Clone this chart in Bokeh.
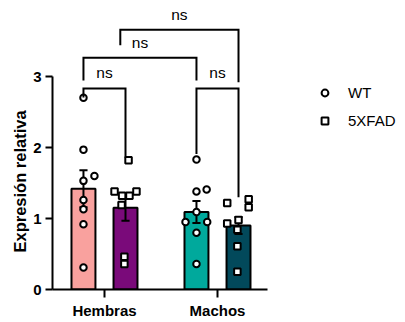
from bokeh.plotting import figure
from bokeh.models import Range1d, FixedTicker, Legend, LegendItem, Title
from bokeh.core.properties import value
from bokeh.embed import file_html
from bokeh.resources import INLINE

# ---------------- data ----------------
groups = ["Hembras", "Machos"]
genotypes = ["WT", "5XFAD"]
y_label = "Expresión relativa"
y_ticks = [0, 1, 2, 3]

mean_wt = [1.42, 1.09]
mean_5xfad = [1.15, 0.90]
sem_wt = [0.26, 0.155]
sem_5xfad = [0.18, 0.12]

hembras_wt = [2.70, 1.97, 1.60, 1.53, 1.26, 1.13, 0.92, 0.31]
hembras_wt_jitter = [0.0, 0.0, 0.097, 0.0, 0.0, 0.0, 0.0, 0.0]
hembras_5xfad = [1.82, 1.38, 1.32, 1.32, 1.38, 1.19, 0.46, 0.36]
hembras_5xfad_jitter = [0.027, -0.097, -0.03, 0.035, 0.097, -0.035, -0.01, -0.01]
machos_wt = [1.83, 1.38, 1.41, 1.09, 0.95, 0.95, 0.80, 0.36]
machos_wt_jitter = [0.0, 0.0, 0.09, 0.0, -0.097, 0.095, 0.0, 0.0]
machos_5xfad = [1.22, 1.27, 1.16, 0.98, 0.93, 0.84, 0.61, 0.25]
machos_5xfad_jitter = [-0.1, 0.09, 0.09, 0.0, -0.1, -0.01, -0.01, -0.01]

# significance brackets: left x, right x, height, left leg end, right leg end, label
bracket_x0 = ["Hembras-WT", "Machos-WT", "Hembras-WT", 1.14]
bracket_x1 = ["Hembras-5XFAD", "Machos-5XFAD", "Machos-WT", "Machos-5XFAD"]
bracket_h = [2.83, 2.83, 3.265, 3.66]
bracket_leg0 = [2.705, 1.91, 2.945, 3.44]
bracket_leg1 = [1.86, 1.30, 2.945, 2.92]
bracket_text = ["ns", "ns", "ns", "ns"]

# ---------------- styles ----------------
FONT = "Liberation Sans"
bar_colors = {"Hembras-WT": "#F9A19E", "Hembras-5XFAD": "#7A0A7A",
              "Machos-WT": "#00A99C", "Machos-5XFAD": "#02495B"}
OFFSET = 0.186
BAR_W = 0.212
CAP = 0.036

center = {g: i + 1 for i, g in enumerate(groups)}
gen_off = {"WT": -OFFSET, "5XFAD": OFFSET}
pos = {f"{g}-{k}": center[g] + gen_off[k] for g in groups for k in genotypes}

p = figure(width=403, height=321, x_range=Range1d(0.540, 3.646), y_range=Range1d(0, 4.0),
           output_backend="svg", toolbar_location=None,
           min_border_left=52, min_border_right=0, min_border_top=5, min_border_bottom=32)
p.outline_line_color = None
p.grid.visible = False
p.background_fill_color = "white"
p.border_fill_color = "white"

# bars
bx, btop, bcol, berr = [], [], [], []
for i, g in enumerate(groups):
    for k, m, s in (("WT", mean_wt[i], sem_wt[i]), ("5XFAD", mean_5xfad[i], sem_5xfad[i])):
        key = f"{g}-{k}"
        bx.append(pos[key]); btop.append(m); bcol.append(bar_colors[key]); berr.append(s)
p.vbar(x=bx, top=btop, bottom=0, width=BAR_W, fill_color=bcol, line_color="black", line_width=2)

# error bars
lo = [m - s for m, s in zip(btop, berr)]
hi = [m + s for m, s in zip(btop, berr)]
p.segment(x0=bx, y0=lo, x1=bx, y1=hi, line_color="black", line_width=2)
p.segment(x0=[x - CAP for x in bx] * 2, y0=lo + hi, x1=[x + CAP for x in bx] * 2, y1=lo + hi,
          line_color="black", line_width=2)

# points
wt_x = [pos["Hembras-WT"] + j for j in hembras_wt_jitter] + [pos["Machos-WT"] + j for j in machos_wt_jitter]
wt_y = hembras_wt + machos_wt
fx_x = [pos["Hembras-5XFAD"] + j for j in hembras_5xfad_jitter] + [pos["Machos-5XFAD"] + j for j in machos_5xfad_jitter]
fx_y = hembras_5xfad + machos_5xfad
r_wt = p.scatter(wt_x, wt_y, marker="circle", size=6.5, fill_color="white", line_color="black", line_width=2)
r_fx = p.scatter(fx_x, fx_y, marker="square", size=6.5, fill_color="white", line_color="black", line_width=2)

# brackets
def bx_of(v):
    return pos[v] if isinstance(v, str) else v
xs, ys, tx, ty = [], [], [], []
for a, b, h, l0, l1 in zip(bracket_x0, bracket_x1, bracket_h, bracket_leg0, bracket_leg1):
    x0, x1 = bx_of(a), bx_of(b)
    xs.append([x0, x0, x1, x1]); ys.append([l0, h, h, l1])
    tx.append((x0 + x1) / 2); ty.append(h + 0.22)
p.multi_line(xs, ys, line_color="black", line_width=2, line_join="miter")
p.text(tx, ty, text=bracket_text, text_align="center", text_baseline="middle",
       text_font=value(FONT), text_font_size="15.5px", text_color="black")

# axes
ya = p.yaxis[0]
ya.bounds = (y_ticks[0], y_ticks[-1])
ya.ticker = FixedTicker(ticks=y_ticks)
ya.minor_tick_line_color = None
ya.major_tick_out = 7
ya.major_tick_in = 0
ya.axis_line_width = 2
ya.axis_line_color = "black"
ya.major_tick_line_width = 2
ya.major_tick_line_color = "black"
ya.major_label_text_font = FONT
ya.major_label_text_font_style = "bold"
ya.major_label_text_font_size = "15px"
ya.major_label_text_color = "black"
ya.major_label_standoff = 4

# y-axis title, positioned along the axis span (a side-panel title is not clipped)
p.add_layout(Title(text=y_label, align="left", offset=37, standoff=3,
                   text_font=FONT, text_font_style="bold", text_font_size="16.5px",
                   text_color="black"), "left")

xa = p.xaxis[0]
xa.bounds = (0.54, 2.44)
xa.ticker = FixedTicker(ticks=[1, 2])
xa.major_label_overrides = {1: groups[0], 2: groups[1]}
xa.minor_tick_line_color = None
xa.major_tick_out = 8
xa.major_tick_in = 0
xa.axis_line_width = 2
xa.axis_line_color = "black"
xa.major_tick_line_width = 2
xa.major_tick_line_color = "black"
xa.major_label_text_font = FONT
xa.major_label_text_font_style = "bold"
xa.major_label_text_font_size = "15px"
xa.major_label_text_color = "black"
xa.major_label_standoff = 4

legend = Legend(items=[LegendItem(label=genotypes[0], renderers=[r_wt]),
                       LegendItem(label=genotypes[1], renderers=[r_fx])],
                location=(264, 160), glyph_width=17, glyph_height=17, label_height=17,
                spacing=11, label_standoff=15, padding=0, margin=0,
                border_line_color=None, background_fill_alpha=0,
                label_text_font=FONT, label_text_font_size="15px", label_text_color="black")
p.add_layout(legend)

open("out.html", "w").write(file_html(p, INLINE))
